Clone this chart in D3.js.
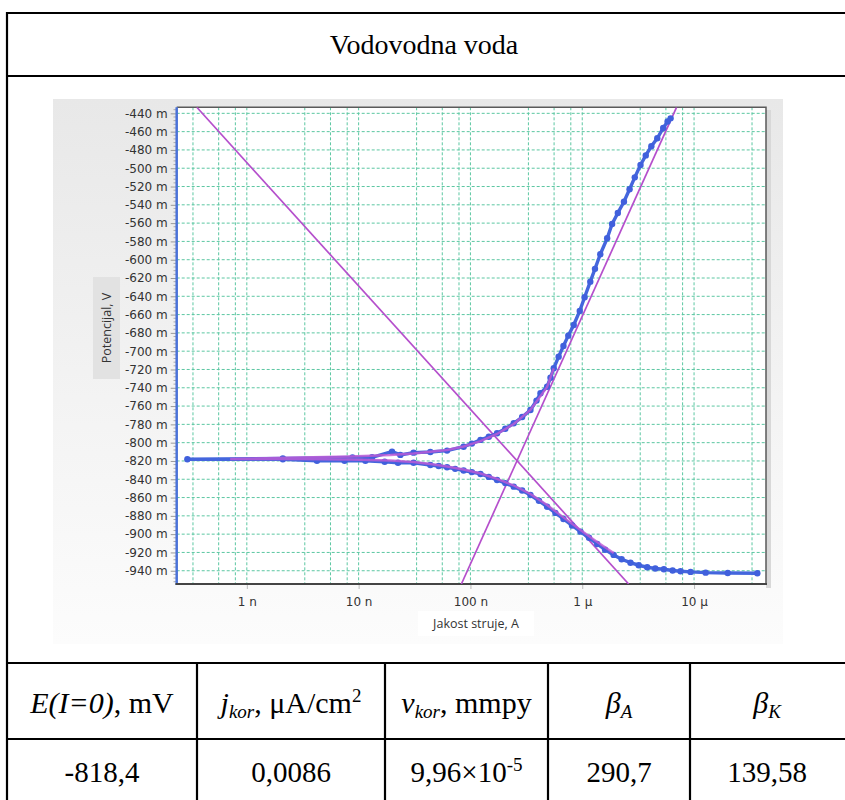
<!DOCTYPE html>
<html><head><meta charset="utf-8">
<script src="https://cdn.jsdelivr.net/npm/d3@7"></script>
<style>html,body{margin:0;padding:0;background:#fff;}svg{display:block;}</style>
</head><body>
<svg id="c" width="845" height="800"></svg>
<script>
// ---------- data (current in A, potential in mV) ----------
const title = "Vodovodna voda";
const xTickValues = [1e-9, 1e-8, 1e-7, 1e-6, 1e-5];
const xTickLabels = ["1 n", "10 n", "100 n", "1 µ", "10 µ"];
const yTickValues = d3.range(-940, -439, 20);
const gridMultipliers = [3.3, 5.6, 7.9, 10];
const xDomain = [2.36e-10, 4.4e-5];
const yDomain = [-954.5, -433.4];

// measured polarisation curve (sweep order: cathodic end -> Ecorr -> anodic end)
const dataI = [3.68e-5, 2.00e-5, 1.27e-5, 9.31e-6, 7.57e-6, 6.43e-6, 5.37e-6, 4.5e-6, 3.81e-6, 3.2e-6, 2.70e-6, 2.25e-6,
  1.91e-6, 1.6e-6, 1.36e-6, 1.15e-6, 9.64e-7, 8.1e-7, 6.79e-7, 5.75e-7, 4.85e-7, 4.1e-7, 3.44e-7, 2.9e-7, 2.44e-7, 2.05e-7,
  1.73e-7, 1.46e-7, 1.23e-7, 1.03e-7, 8.69e-8, 7.3e-8, 6.18e-8, 5.2e-8, 4.38e-8, 3.10e-8, 2.25e-8, 1.71e-8, 1.15e-8,
  7.48e-9, 4.24e-9, 2.10e-9, 2.94e-10,
  2.10e-9, 8.81e-9, 1.32e-8, 1.99e-8, 2.36e-8, 3.10e-8, 4.38e-8, 6.18e-8, 8.69e-8, 1.03e-7, 1.23e-7, 1.46e-7, 1.73e-7,
  2.05e-7, 2.44e-7, 2.9e-7, 3.44e-7, 3.9e-7, 4.23e-7, 4.85e-7, 5.2e-7, 5.56e-7, 6.15e-7, 6.79e-7, 7.5e-7, 8.39e-7, 9.5e-7,
  1.05e-6, 1.18e-6, 1.3e-6, 1.45e-6, 1.67e-6, 1.85e-6, 2.08e-6, 2.36e-6, 2.65e-6, 2.95e-6, 3.32e-6, 3.7e-6, 4.15e-6,
  4.69e-6, 5.3e-6, 5.8e-6, 6.17e-6];
const dataE = [-942.7, -942.4, -942.1, -941.3, -940.5, -939.7, -938.4, -937.5, -936.2, -934.0, -931.2, -927.5,
  -922.7, -917.0, -910.7, -904.0, -897.3, -890.5, -883.4, -876.8, -870.0, -863.5, -857.2, -852.3, -848.1, -844.2,
  -840.8, -837.4, -834.2, -832.2, -830.4, -828.6, -826.9, -825.5, -824.4, -821.9, -821.9, -820.8, -819.7,
  -819.7, -819.7, -818.1, -818.1,
  -817.3, -816.2, -816.0, -809.8, -813.4, -810.9, -810.2, -808.7, -804.4, -801.0, -797.0, -793.6, -789.7,
  -784.8, -778.8, -772.0, -764.3, -754.0, -746.0, -738.8, -729.0, -718.7, -706.0, -694.3, -683.0, -671.4, -656.0,
  -641.0, -624.0, -610.0, -594.0, -576.6, -561.0, -549.0, -536.6, -523.0, -510.0, -496.5, -486.0, -476.0,
  -467.3, -456.0, -449.0, -445.5];

// fitted curve
const fitI = [1.91e-6, 1.36e-6, 9.64e-7, 6.79e-7, 4.85e-7, 3.44e-7, 2.44e-7, 1.73e-7, 1.23e-7, 8.69e-8, 6.18e-8, 4.38e-8,
  3.10e-8, 1.92e-8, 8.4e-9, 3.0e-9, 7.1e-10,
  3.0e-9, 8.4e-9, 1.92e-8, 3.10e-8, 6.18e-8, 8.69e-8, 1.23e-7, 1.73e-7, 2.44e-7, 3.44e-7, 4.85e-7, 5.56e-7];
const fitE = [-920.6, -908.5, -895.4, -881.7, -868.1, -856.1, -846.8, -839.7, -833.7, -829.3, -826.0, -823.3,
  -821.1, -819.5, -818.4, -817.8, -817.8,
  -816.2, -815.1, -813.5, -811.8, -808.0, -804.2, -798.2, -790.5, -779.6, -764.3, -739.1, -718.7];

// Tafel lines
const anodicI = [8.3e-8, 6.97e-6];
const anodicE = [-954.5, -433.4];
const cathodicI = [3.57e-10, 2.6e-6];
const cathodicE = [-433.4, -954.5];

// table
const tableValues = ["-818,4", "0,0086", "9,96×10", "290,7", "139,58"];

// ---------- drawing ----------
const svg = d3.select("#c");
const defs = svg.append("defs");
const grad = defs.append("linearGradient").attr("id", "bg").attr("x1", 0).attr("y1", 0).attr("x2", 0).attr("y2", 1);
grad.append("stop").attr("offset", "0%").attr("stop-color", "#e8e8e8");
grad.append("stop").attr("offset", "100%").attr("stop-color", "#fcfcfc");
defs.append("clipPath").attr("id", "plotclip").append("rect")
  .attr("x", 176.7).attr("y", 107.3).attr("width", 766 - 176.7).attr("height", 584 - 107.3);

// chart panel background
svg.append("rect").attr("x", 53).attr("y", 99).attr("width", 730).attr("height", 545).attr("fill", "url(#bg)");

const x = d3.scaleLog().domain(xDomain).range([176.7, 766]);
const y = d3.scaleLinear().domain(yDomain).range([584, 107.3]);

// plot area
svg.append("rect").attr("x", 176.7).attr("y", 107.3).attr("width", 766 - 176.7).attr("height", 584 - 107.3).attr("fill", "#fff");
svg.append("rect").attr("x", 766).attr("y", 110).attr("width", 5).attr("height", 478).attr("fill", "#d8d8d8");

const grid = svg.append("g").attr("clip-path", "url(#plotclip)");
const vLines = [];
for (let k = -10; k <= -5; k++) gridMultipliers.forEach(m => { const v = m * Math.pow(10, k); if (v > xDomain[0] && v < xDomain[1]) vLines.push(v); });
grid.selectAll(".vg").data(vLines).join("line")
  .attr("x1", d => x(d)).attr("x2", d => x(d)).attr("y1", 107.3).attr("y2", 584)
  .attr("stroke", "#5cc7a2").attr("stroke-width", 1).attr("stroke-dasharray", "3,2");
grid.selectAll(".hg").data(yTickValues).join("line")
  .attr("x1", 176.7).attr("x2", 766).attr("y1", d => y(d)).attr("y2", d => y(d))
  .attr("stroke", "#5cc7a2").attr("stroke-width", 1).attr("stroke-dasharray", "3,2");

// frame
svg.append("path").attr("d", `M176.7,107.3H766V584`).attr("fill", "none").attr("stroke", "#5a5a5a").attr("stroke-width", 1.5);

// y axis
const yAxis = d3.axisLeft(y).tickValues(yTickValues).tickSize(6).tickPadding(3).tickFormat(d => d + " m");
const ya = svg.append("g").attr("transform", "translate(176.7,0)").call(yAxis);
ya.select(".domain").remove();
ya.selectAll("line").attr("stroke", "#999");
ya.selectAll("text").attr("font-family", "DejaVu Sans, Verdana, sans-serif").attr("font-size", 12).attr("fill", "#333");
const minor = d3.range(-952, -435, 4).filter(v => v % 20 !== 0);
svg.append("g").selectAll("line").data(minor).join("line")
  .attr("x1", 173.5).attr("x2", 176.7).attr("y1", d => y(d)).attr("y2", d => y(d)).attr("stroke", "#aaa");
svg.append("line").attr("x1", 176.7).attr("x2", 176.7).attr("y1", 107.3).attr("y2", 585)
  .attr("stroke", "#4a72d8").attr("stroke-width", 2.5);

// x axis
const xAxis = d3.axisBottom(x).tickValues(xTickValues).tickSize(5).tickPadding(8)
  .tickFormat((d, i) => xTickLabels[i]);
const xa = svg.append("g").attr("transform", "translate(0,584)").call(xAxis);
xa.select(".domain").remove();
xa.selectAll("line").attr("stroke", "#bbb");
xa.selectAll("text").attr("font-family", "DejaVu Sans, Verdana, sans-serif").attr("font-size", 12).attr("fill", "#333");
svg.append("line").attr("x1", 175.5).attr("x2", 767).attr("y1", 584).attr("y2", 584).attr("stroke", "#444").attr("stroke-width", 2);

// axis titles
svg.append("rect").attr("x", 93).attr("y", 277).attr("width", 27).attr("height", 102).attr("fill", "#e2e2e2");
svg.append("text").attr("transform", "translate(111,328) rotate(-90)").attr("text-anchor", "middle")
  .attr("font-family", "Open Sans, sans-serif").attr("font-size", 12.5).attr("fill", "#333").text("Potencijal, V");
svg.append("rect").attr("x", 418).attr("y", 611).attr("width", 116).attr("height", 25).attr("fill", "#fff");
svg.append("text").attr("x", 476).attr("y", 628).attr("text-anchor", "middle")
  .attr("font-family", "Open Sans, sans-serif").attr("font-size", 12.5).attr("fill", "#333").text("Jakost struje, A");

// series
const plot = svg.append("g").attr("clip-path", "url(#plotclip)");
const line = d3.line().x(d => x(d[0])).y(d => y(d[1]));
const tafelColor = "#b54fcc";
plot.append("path").datum(anodicI.map((v, i) => [v, anodicE[i]])).attr("d", line)
  .attr("fill", "none").attr("stroke", tafelColor).attr("stroke-width", 1.7);
plot.append("path").datum(cathodicI.map((v, i) => [v, cathodicE[i]])).attr("d", line)
  .attr("fill", "none").attr("stroke", tafelColor).attr("stroke-width", 1.7);

const data = dataI.map((v, i) => [v, dataE[i]]);
plot.append("path").datum(data).attr("d", line).attr("fill", "none").attr("stroke", "#4466dd").attr("stroke-width", 3.4);
plot.selectAll(".pt").data(data).join("circle").attr("cx", d => x(d[0])).attr("cy", d => y(d[1]))
  .attr("r", 3.2).attr("fill", "#4060dc");

const fit = fitI.map((v, i) => [v, fitE[i]]);
plot.append("path").datum(fit).attr("d", line).attr("fill", "none")
  .attr("stroke", "#c05ad6").attr("stroke-width", 2.4).attr("stroke-opacity", 0.8);

// ---------- table ----------
const T = svg.append("g");
const black = "#000";
const bw = 2.2;
const hl = (y0) => T.append("line").attr("x1", 6).attr("x2", 845).attr("y1", y0).attr("y2", y0).attr("stroke", black).attr("stroke-width", bw);
const vl = (x0, y0, y1) => T.append("line").attr("x1", x0).attr("x2", x0).attr("y1", y0).attr("y2", y1).attr("stroke", black).attr("stroke-width", bw);
hl(13); hl(76); hl(663); hl(739);
vl(7, 12, 800);
const colX = [197, 385, 548, 690];
colX.forEach(cx => vl(cx, 663, 800));
const centers = [102, 291, 466.5, 619, 767];

const serif = "Liberation Serif, Times New Roman, serif";
svg.append("text").attr("x", 424).attr("y", 54).attr("text-anchor", "middle").attr("font-family", serif)
  .attr("font-size", 28).text(title);

function hdr(i, parts) {
  const t = T.append("text").attr("x", centers[i]).attr("y", 713).attr("text-anchor", "middle")
    .attr("font-family", serif).attr("font-size", 30);
  parts.forEach(p => {
    const s = t.append("tspan").text(p.t);
    if (p.i) s.attr("font-style", "italic");
    if (p.sub) s.attr("font-size", 19).attr("dy", 5);
    if (p.sup) s.attr("font-size", 19).attr("dy", -11);
    if (p.back) s.attr("dy", p.back);
  });
}
hdr(0, [{t: "E(I=0)", i: 1}, {t: ", mV"}]);
hdr(1, [{t: "j", i: 1}, {t: "kor", i: 1, sub: 1}, {t: ", μA/cm", back: -5}, {t: "2", sup: 1}]);
hdr(2, [{t: "v", i: 1}, {t: "kor", i: 1, sub: 1}, {t: ", mmpy", back: -5}]);
hdr(3, [{t: "β", i: 1}, {t: "A", i: 1, sub: 1}]);
hdr(4, [{t: "β", i: 1}, {t: "K", i: 1, sub: 1}]);

tableValues.forEach((v, i) => {
  const t = T.append("text").attr("x", centers[i]).attr("y", 782).attr("text-anchor", "middle")
    .attr("font-family", serif).attr("font-size", 29);
  t.append("tspan").text(v);
  if (i === 2) t.append("tspan").attr("font-size", 19).attr("dy", -11).text("-5");
});
</script>
</body></html>
